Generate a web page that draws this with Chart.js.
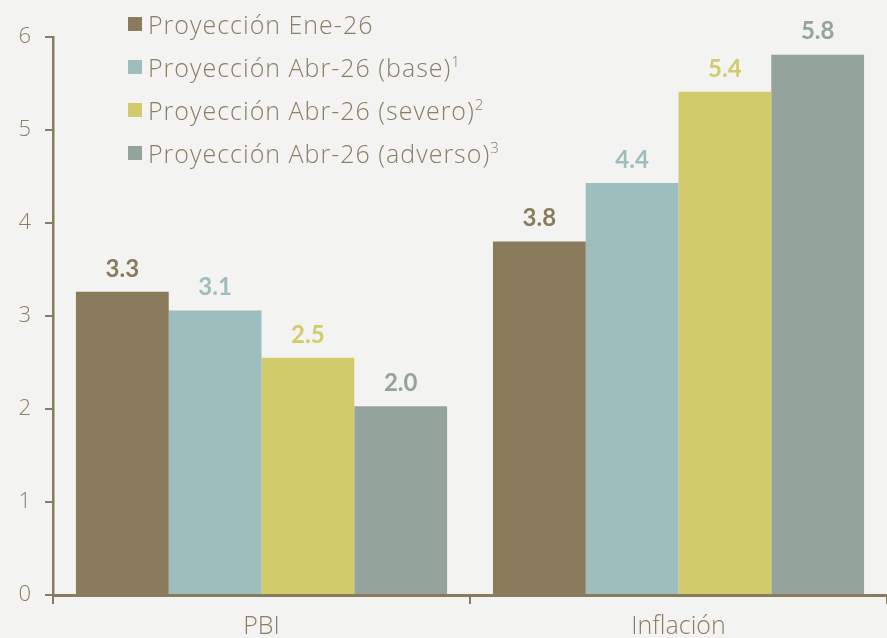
<!DOCTYPE html>
<html>
<head>
<meta charset="utf-8">
<script src="https://cdn.jsdelivr.net/npm/chart.js@4"></script>
<style>
  body { margin: 0; background: #f3f3f1; }
  #wrap { position: relative; width: 887px; height: 638px; overflow: hidden; }
  #legend { position: absolute; left: 128px; top: 2px; font-family: "Open Sans"; font-weight: 300; font-size: 25px; letter-spacing: 1px; color: #8b7e64; }
  .row { height: 43px; display: flex; align-items: center; white-space: nowrap; }
  .sw { width: 14px; height: 14px; margin-right: 6px; flex: none; }
  .row sup { font-size: 15px; vertical-align: 10px; line-height: 0; letter-spacing: 0; }
</style>
</head>
<body>
<div id="wrap">
  <canvas id="chart" width="887" height="638"></canvas>
  <div id="legend"></div>
</div>
<script>
const categories = ['PBI', 'Inflación'];
const seriesNames = ['Proyección Ene-26', 'Proyección Abr-26 (base)', 'Proyección Abr-26 (severo)', 'Proyección Abr-26 (adverso)'];
const footnotes = ['', '1', '2', '3'];
const eneValues = [3.26, 3.8];
const baseValues = [3.06, 4.43];
const severoValues = [2.55, 5.41];
const adversoValues = [2.03, 5.81];
const yMin = 0, yMax = 6, yStep = 1;

const colors = ['#8a7b5c', '#9dbebd', '#d2cb6c', '#94a39b'];
const axisColor = '#8a7b5c';
const textColor = '#8b7e64';

// legend
const legend = document.getElementById('legend');
seriesNames.forEach((name, i) => {
    const row = document.createElement('div');
    row.className = 'row';
    row.innerHTML = `<span class="sw" style="background:${colors[i]}"></span><span>${name}${footnotes[i] ? '<sup>' + footnotes[i] + '</sup>' : ''}</span>`;
    legend.appendChild(row);
});

// value labels above bars
const barLabels = {
    id: 'barLabels',
    afterDatasetsDraw(chart) {
        const ctx = chart.ctx;
        chart.data.datasets.forEach((ds, i) => {
            chart.getDatasetMeta(i).data.forEach((bar, j) => {
                ctx.save();
                ctx.font = '700 24px Lato';
                ctx.fillStyle = ds.backgroundColor;
                ctx.textAlign = 'center';
                ctx.textBaseline = 'middle';
                ctx.fillText(ds.data[j].toFixed(1), bar.x, bar.y - 23);
                ctx.restore();
            });
        });
    }
};

function draw() {
    const values = [eneValues, baseValues, severoValues, adversoValues];
    new Chart(document.getElementById('chart'), {
        type: 'bar',
        data: {
            labels: categories,
            datasets: seriesNames.map((name, i) => ({
                label: name,
                data: values[i],
                backgroundColor: colors[i],
                categoryPercentage: 0.89,
                barPercentage: 1
            }))
        },
        options: {
            responsive: false,
            animation: false,
            layout: { padding: { top: 37, left: 0, right: 0, bottom: 0 } },
            plugins: { legend: { display: false }, tooltip: { enabled: false } },
            scales: {
                x: {
                    grid: { offset: true, drawOnChartArea: false, tickLength: 9, color: axisColor, lineWidth: 2 },
                    border: { color: axisColor, width: 3 },
                    ticks: { color: textColor, padding: 8, font: { family: 'Open Sans', size: 25, weight: '300' } },
                    afterFit: s => { s.height = 43; }
                },
                y: {
                    min: yMin,
                    max: yMax,
                    grid: { drawOnChartArea: false, tickLength: 8, color: axisColor, lineWidth: 2 },
                    border: { color: axisColor, width: 2.5 },
                    ticks: { stepSize: yStep, color: textColor, padding: 14, font: { family: 'Open Sans', size: 22, weight: '300' } },
                    afterFit: s => { s.width = 53; }
                }
            }
        },
        plugins: [barLabels]
    });
}

Promise.all([
    document.fonts.load('700 20px Lato'),
    document.fonts.load('300 20px "Open Sans"')
]).then(draw, draw);
</script>
</body>
</html>
